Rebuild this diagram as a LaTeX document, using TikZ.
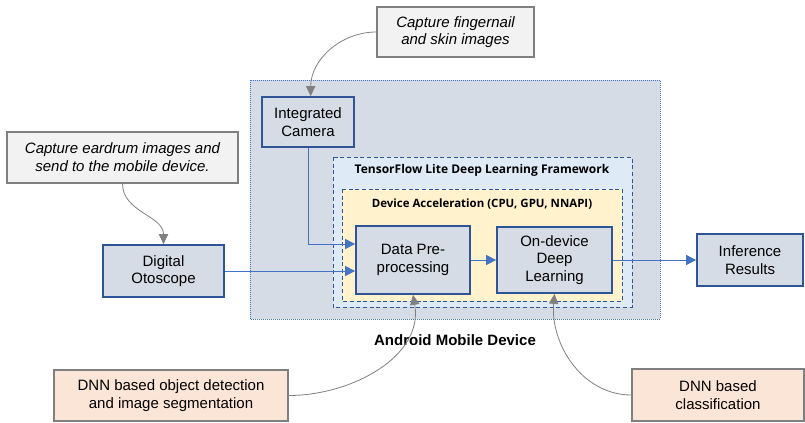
\documentclass[tikz,border=0pt]{standalone}
\usepackage{fontspec}
\setmainfont{Liberation Sans}
\newfontfamily\titlefont{Open Sans}
\usetikzlibrary{arrows.meta}
\definecolor{bfill}{HTML}{D6DCE5}
\definecolor{bdraw}{HTML}{2F5597}
\definecolor{ablue}{HTML}{4472C4}
\definecolor{tffill}{HTML}{DEEBF7}
\definecolor{accfill}{HTML}{FFF2CC}
\definecolor{notefill}{HTML}{F2F2F2}
\definecolor{notedraw}{HTML}{7F7F7F}
\definecolor{dnnfill}{HTML}{FBE5D6}
\definecolor{agray}{HTML}{808080}
\tikzset{
  sz/.style 2 args={minimum width={#1*0.75pt}, minimum height={#2*0.75pt}},
  txt/.style={font=\fontsize{11.25}{13.3}\selectfont, align=center, inner sep=0pt},
  bluebox/.style={txt, draw=bdraw, line width=1.3pt, fill=bfill},
  notebox/.style={txt, draw=notedraw, line width=0.9pt, fill=notefill, font=\fontsize{11.25}{13.3}\selectfont\itshape},
  dnnbox/.style={txt, draw=notedraw, line width=0.9pt, fill=dnnfill},
  frame/.style={draw=ablue, line width=0.5pt, densely dotted},
  frametitle/.style={font=\fontsize{8.6}{10}\selectfont\titlefont\bfseries, inner sep=0pt},
  barrow/.style={draw=ablue, line width=0.75pt, -{Triangle[length=7.5pt, width=7.5pt]}},
  garrow/.style={draw=agray, line width=0.6pt, -{Triangle[length=7.5pt, width=7pt]}},
}
\begin{document}
\begin{tikzpicture}[x=0.75pt, y=-0.75pt]
\useasboundingbox (0,0) rectangle (805,422);
% frames
\draw[frame, fill=bfill] (250,80) rectangle (660,319);
\draw[frame, fill=tffill, densely dashed, draw=bdraw] (333,157) rectangle (632,307);
\draw[frame, fill=accfill, densely dashed, draw=bdraw] (342,189) rectangle (622,301);
\node[frametitle, font=\fontsize{9}{10}\selectfont\titlefont\bfseries] (tftitle) at (482,170) {TensorFlow Lite Deep Learning Framework};
\node[frametitle] (acctitle) at (482,204) {Device Acceleration (CPU, GPU, NNAPI)};
\node[font=\fontsize{11.25}{12.75}\selectfont\bfseries, inner sep=0pt] (android) at (455,340) {Android Mobile Device};
% boxes
\node[bluebox, sz={92}{50}] (cam) at (308,122) {Integrated\\Camera};
\node[bluebox, sz={114}{68}] (dp) at (413,260) {Data Pre-\\processing};
\node[bluebox, sz={115}{66}] (od) at (554.5,260) {On-device\\Deep\\Learning};
\node[bluebox, sz={121}{52}] (oto) at (163.5,271) {Digital\\Otoscope};
\node[bluebox, sz={106}{52}] (inf) at (750,260) {Inference\\Results};
\node[notebox, sz={231}{51}] (ear) at (122.5,157.5) {Capture eardrum images and\\send to the mobile device.};
\node[notebox, sz={157}{50}] (fn) at (455.5,32) {Capture fingernail\\and skin images};
\node[dnnbox, sz={172}{52}] (cls) at (718,395) {DNN based\\classification};
\node[dnnbox, sz={234}{51}] (obj) at (171,395.5) {DNN based object detection\\and image segmentation};
% blue connectors
\draw[barrow] (cam.south) |- ([yshift=12pt]dp.west);
\draw[barrow] (oto.east) -- (oto.east -| dp.west);
\draw[barrow] (dp.east) -- (od.west);
\draw[barrow] (od.east) -- (inf.west);
% gray connectors
\draw[garrow] (fn.west) to[out=180, in=90] ([xshift=2pt]cam.north);
\draw[garrow] (ear.south) to[out=-90, in=90] (oto.north);
\draw[garrow] (obj.east) to[out=0, in=-80] (dp.south);
\draw[garrow] (cls.west) to[out=180, in=-95] (od.south);
\end{tikzpicture}
\end{document}
